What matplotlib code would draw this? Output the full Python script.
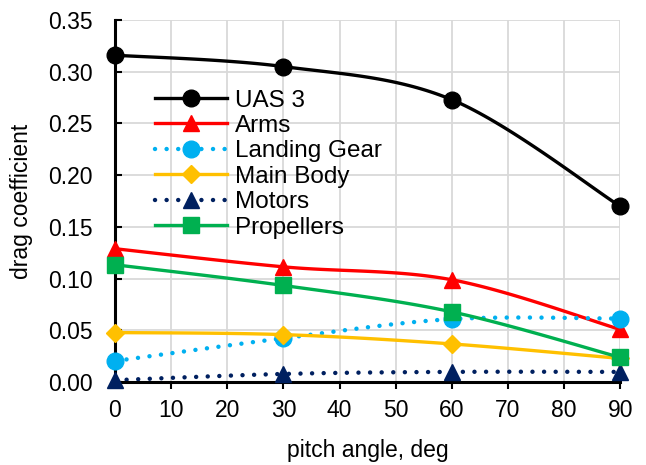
import numpy as np
import matplotlib.pyplot as plt

plt.rcParams['font.family'] = ['Liberation Sans', 'DejaVu Sans']

pitch = [0, 30, 60, 90]
uas3 = [0.316, 0.305, 0.273, 0.170]
arms = [0.129, 0.1115, 0.099, 0.051]
landing_gear = [0.0205, 0.0425, 0.061, 0.0615]
main_body = [0.048, 0.046, 0.037, 0.023]
motors = [0.002, 0.008, 0.010, 0.010]
propellers = [0.1135, 0.0935, 0.068, 0.024]


def smooth(x, y, n=40):
    # cubic Bezier through the points, control points from neighbour slopes
    x = np.asarray(x, float)
    y = np.asarray(y, float)
    px = np.concatenate([[x[0]], x, [x[-1]]])
    py = np.concatenate([[y[0]], y, [y[-1]]])
    xs, ys = [], []
    t = np.linspace(0, 1, n)
    for i in range(len(x) - 1):
        p0 = np.array([px[i + 1], py[i + 1]])
        p3 = np.array([px[i + 2], py[i + 2]])
        c1 = p0 + (np.array([px[i + 2], py[i + 2]]) - np.array([px[i], py[i]])) / 6
        c2 = p3 - (np.array([px[i + 3], py[i + 3]]) - np.array([px[i + 1], py[i + 1]])) / 6
        b = ((1 - t) ** 3)[:, None] * p0 + (3 * (1 - t) ** 2 * t)[:, None] * c1 \
            + (3 * (1 - t) * t ** 2)[:, None] * c2 + (t ** 3)[:, None] * p3
        xs.extend(b[:, 0])
        ys.extend(b[:, 1])
    return xs, ys


fig = plt.figure(figsize=(6.46, 4.65), dpi=100)
ax = fig.add_axes([0.178, 0.178, 0.782, 0.779])

dots = (0, (0.01, 2.6))
series = [
    ('UAS 3', uas3, '#000000', 'o', '-', 2.4, 12),
    ('Arms', arms, '#FF0000', '^', '-', 2.4, 12),
    ('Landing Gear', landing_gear, '#00B0F0', 'o', dots, 3.2, 12),
    ('Main Body', main_body, '#FFC000', 'D', '-', 2.4, 9),
    ('Motors', motors, '#002060', '^', dots, 3.2, 12),
    ('Propellers', propellers, '#00B050', 's', '-', 2.4, 11),
]

for label, vals, color, marker, ls, lw, ms in series:
    sx, sy = smooth(pitch, vals)
    ax.plot(sx, sy, color=color, lw=lw, ls=ls, dash_capstyle='round', zorder=2)
    ax.plot(pitch, vals, color=color, marker=marker, ms=ms, ls='none', zorder=3,
            clip_on=False)
    ax.plot([], [], color=color, lw=lw, ls=ls, dash_capstyle='round',
            marker=marker, ms=ms, label=label)

ax.set_xlim(0, 90)
ax.set_ylim(0, 0.35)
ax.set_xticks(np.arange(0, 91, 10))
ax.set_yticks(np.arange(0, 0.351, 0.05))
ax.yaxis.set_major_formatter(plt.FormatStrFormatter('%.2f'))
ax.grid(True, color='#D9D9D9', lw=1.3)
ax.set_axisbelow(True)
for s in ['top', 'right']:
    ax.spines[s].set_visible(False)
for s in ['left', 'bottom']:
    ax.spines[s].set_linewidth(2.2)
ax.tick_params(axis='x', direction='out', length=5, width=1.5, labelsize=16.5, pad=7)
ax.tick_params(axis='y', direction='in', length=5, width=1.5, labelsize=16.5, pad=16)

ax.set_xlabel('pitch angle, deg', fontsize=16.5, labelpad=12)
ax.set_ylabel('drag coefficient', fontsize=16.5)
ax.yaxis.set_label_coords(-0.162, 0.5)

ax.legend(loc='upper left', bbox_to_anchor=(0.079, 0.808), frameon=False,
          fontsize=17.5, handlelength=2.95, labelspacing=0.14, handletextpad=0.33,
          borderaxespad=0, borderpad=0)

fig.savefig('out.png', dpi=100)
